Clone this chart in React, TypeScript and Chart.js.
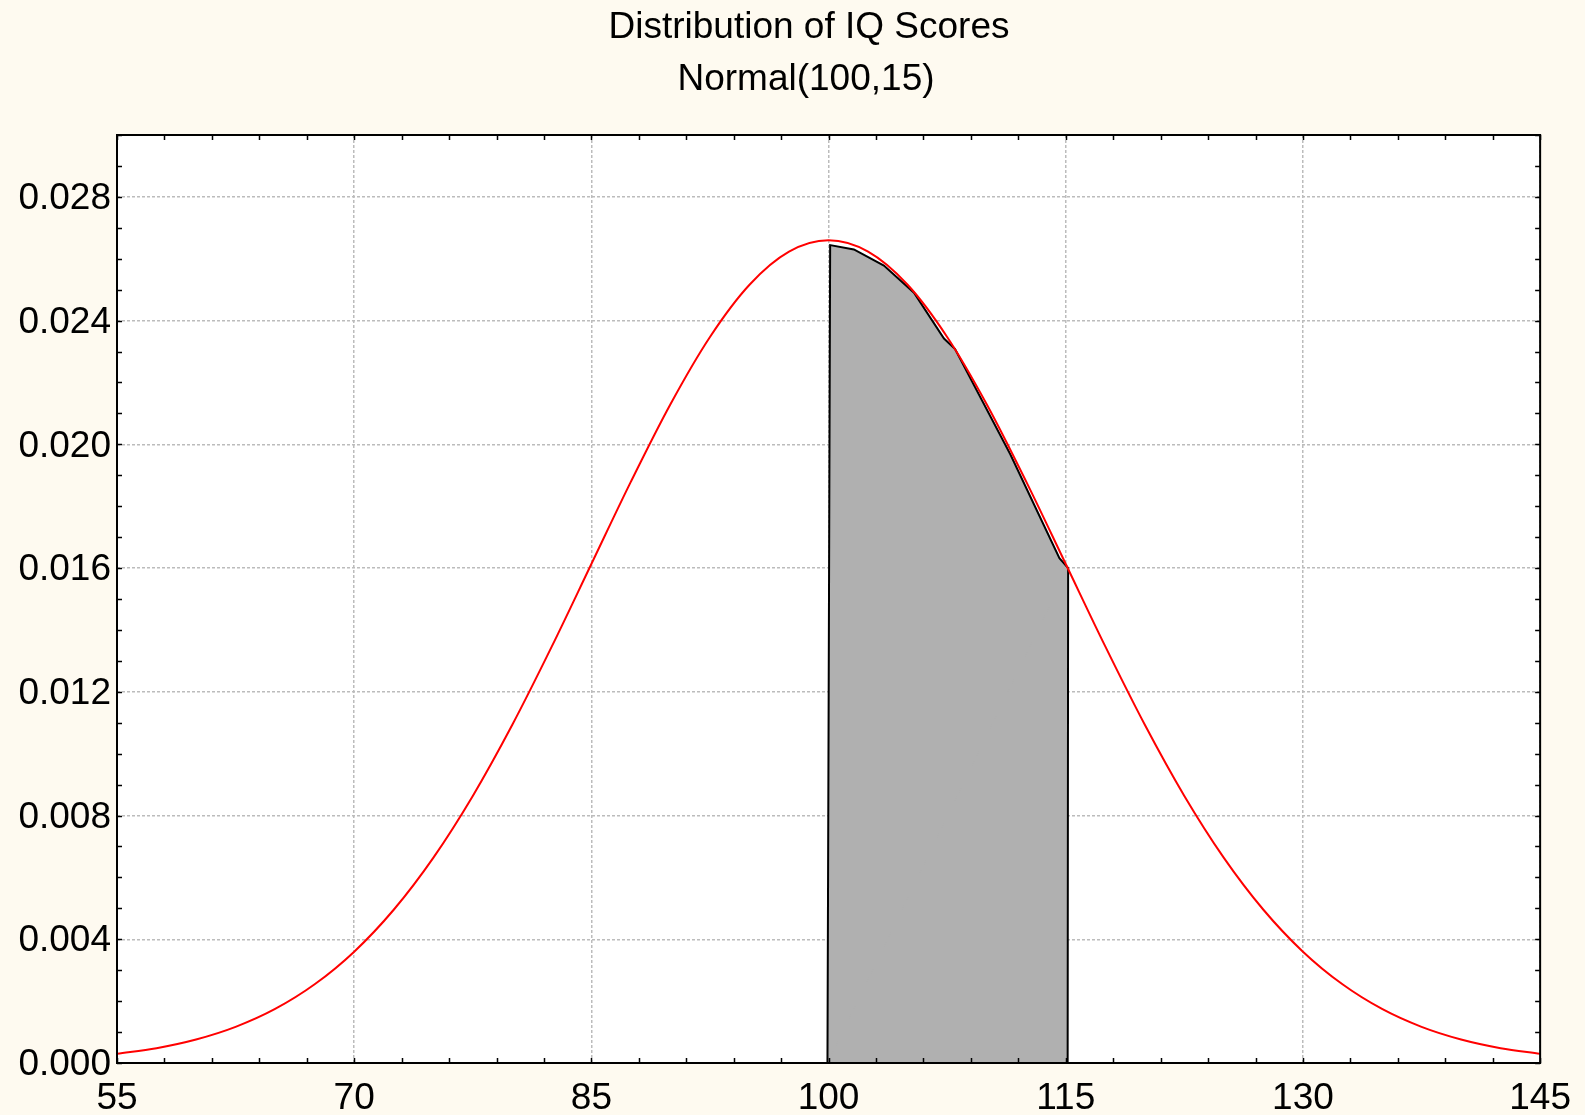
import React, { useEffect, useRef } from "react";
import { Chart, registerables } from "chart.js";

Chart.register(...registerables);

const titleText = "Distribution of IQ Scores";
const subtitleText = "Normal(100,15)";

const curveX = [
  55, 57.5, 60, 62.5, 65, 67.5, 70, 72.5, 75, 77.5, 80, 82.5, 85, 87.5, 90, 92.5, 95, 97.5,
  100, 102.5, 105, 107.5, 110, 112.5, 115, 117.5, 120, 122.5, 125, 127.5, 130, 132.5, 135,
  137.5, 140, 142.5, 145,
];
const curveY = [
  0.000295, 0.00048, 0.00076, 0.001169, 0.001748, 0.002544, 0.003599, 0.004954, 0.006632,
  0.008634, 0.010934, 0.013467, 0.016131, 0.018794, 0.021297, 0.023471, 0.025159, 0.026229,
  0.026596, 0.026229, 0.025159, 0.023471, 0.021297, 0.018794, 0.016131, 0.013467, 0.010934,
  0.008634, 0.006632, 0.004954, 0.003599, 0.002544, 0.001748, 0.001169, 0.00076, 0.00048,
  0.000295,
];

const shadeX = [99.93, 100.1, 101.6, 103.5, 105.4, 107.3, 108.0, 111.5, 114.6, 115.15, 115.12];
const shadeY = [0, 0.02644, 0.0263, 0.02578, 0.0249, 0.02342, 0.02308, 0.01967, 0.01632, 0.016, 0];

const xTicks = [55, 70, 85, 100, 115, 130, 145];
const yTicks = [0, 0.004, 0.008, 0.012, 0.016, 0.02, 0.024, 0.028];
const yTickLabels = ["0.000", "0.004", "0.008", "0.012", "0.016", "0.020", "0.024", "0.028"];

const X_MIN = 55;
const X_MAX = 145;
const Y_MIN = 0;
const Y_MAX = 0.03;
const X_MINOR = 3;
const Y_MINOR = 0.001;

const BG = "#fefaf0";
const FONT = "'Liberation Sans', Arial, sans-serif";

const framePlugin = {
  id: "framePlugin",
  beforeDraw(chart: any) {
    const { ctx, chartArea } = chart;
    ctx.save();
    ctx.fillStyle = BG;
    ctx.fillRect(0, 0, chart.width, chart.height);
    ctx.fillStyle = "#ffffff";
    ctx.fillRect(chartArea.left, chartArea.top, chartArea.right - chartArea.left, chartArea.bottom - chartArea.top);
    ctx.restore();
  },
  afterDraw(chart: any) {
    const { ctx, chartArea } = chart;
    const xs = chart.scales.x;
    const ys = chart.scales.y;
    const L = 5;
    ctx.save();
    ctx.strokeStyle = "#000000";
    ctx.lineWidth = 1.5;
    ctx.beginPath();
    for (let v = X_MIN; v <= X_MAX + 1e-9; v += X_MINOR) {
      const px = Math.round(xs.getPixelForValue(v)) + 0.5;
      ctx.moveTo(px, chartArea.bottom);
      ctx.lineTo(px, chartArea.bottom - L);
      ctx.moveTo(px, chartArea.top);
      ctx.lineTo(px, chartArea.top + L);
    }
    for (let i = 0; Y_MIN + i * Y_MINOR <= Y_MAX + 1e-9; i++) {
      const v = Y_MIN + i * Y_MINOR;
      const py = Math.round(ys.getPixelForValue(v)) + 0.5;
      ctx.moveTo(chartArea.left, py);
      ctx.lineTo(chartArea.left + L, py);
      ctx.moveTo(chartArea.right, py);
      ctx.lineTo(chartArea.right - L, py);
    }
    ctx.stroke();
    ctx.lineWidth = 2;
    ctx.strokeRect(chartArea.left, chartArea.top, chartArea.right - chartArea.left, chartArea.bottom - chartArea.top);

    // titles
    ctx.fillStyle = "#000000";
    ctx.font = `37px ${FONT}`;
    ctx.textAlign = "center";
    ctx.textBaseline = "middle";
    ctx.fillText(titleText, 809, 28);
    ctx.fillText(subtitleText, 806, 80);
    ctx.restore();
  },
};

export default function App() {
  const ref = useRef<HTMLCanvasElement | null>(null);
  useEffect(() => {
    if (!ref.current) return;
    const chart = new Chart(ref.current, {
      type: "line",
      data: {
        datasets: [
          {
            label: "Shaded",
            data: shadeX.map((x, i) => ({ x, y: shadeY[i] })),
            borderColor: "#000000",
            borderWidth: 2,
            backgroundColor: "#b0b0b0",
            fill: "origin",
            pointRadius: 0,
            tension: 0,
            order: 2,
          },
          {
            label: "Normal",
            data: curveX.map((x, i) => ({ x, y: curveY[i] })),
            borderColor: "#ff0000",
            borderWidth: 2,
            fill: false,
            pointRadius: 0,
            cubicInterpolationMode: "monotone",
            order: 1,
          },
        ],
      },
      options: {
        animation: false,
        responsive: false,
        devicePixelRatio: 1,
        layout: { padding: { left: 0, right: 44, top: 135, bottom: 0 } },
        plugins: {
          legend: { display: false },
          tooltip: { enabled: false },
          title: { display: false },
          subtitle: { display: false },
        },
        scales: {
          x: {
            type: "linear",
            min: X_MIN,
            max: X_MAX,
            afterBuildTicks: (s: any) => {
              s.ticks = xTicks.map((v) => ({ value: v }));
            },
            afterFit: (s: any) => {
              s.height = 52;
            },
            ticks: {
              color: "#000000",
              font: { family: FONT, size: 37 },
              padding: 14,
              maxRotation: 0,
              autoSkip: false,
              callback: (v: any) => String(v),
            },
            grid: {
              color: "#bcbcbc",
              lineWidth: 1.5,
              drawTicks: false,
            },
            border: { display: false, dash: [3, 2] },
          },
          y: {
            type: "linear",
            min: Y_MIN,
            max: Y_MAX,
            afterBuildTicks: (s: any) => {
              s.ticks = yTicks.map((v) => ({ value: v }));
            },
            afterFit: (s: any) => {
              s.width = 117;
            },
            ticks: {
              color: "#000000",
              font: { family: FONT, size: 37 },
              padding: 6,
              labelOffset: 2,
              autoSkip: false,
              callback: (_v: any, i: number) => yTickLabels[i],
            },
            grid: {
              color: "#bcbcbc",
              lineWidth: 1.5,
              drawTicks: false,
            },
            border: { display: false, dash: [3, 2] },
          },
        },
      } as any,
      plugins: [framePlugin],
    });
    return () => chart.destroy();
  }, []);
  return (
    <div style={{ position: "absolute", left: 0, top: 0, width: 1585, height: 1115, background: BG }}>
      <canvas ref={ref} width={1585} height={1115} style={{ display: "block" }} />
    </div>
  );
}
